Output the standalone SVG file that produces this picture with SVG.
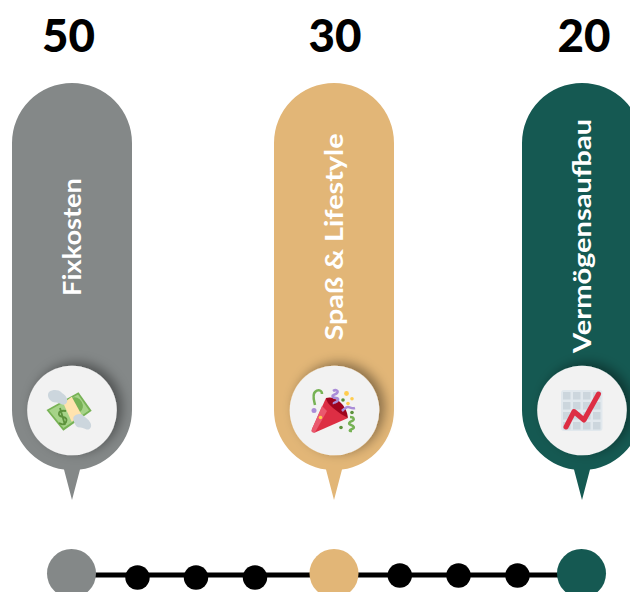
<svg xmlns="http://www.w3.org/2000/svg" width="630" height="592" viewBox="0 0 630 592">
<style>
text{font-family:"Lato","Liberation Sans",sans-serif;font-weight:700}
.num{font-size:46px;fill:#000;text-anchor:middle;font-weight:900}
.lbl{font-size:24px;fill:#fff;text-anchor:middle}
.disc{fill:#f2f2f2;filter:url(#sh)}
.cell{fill:#ccd6dd}
</style>
<defs>
<filter id="sh" x="-40%" y="-40%" width="180%" height="180%"><feDropShadow dx="5" dy="-3" stdDeviation="6" flood-color="#000" flood-opacity=".4"/></filter>
<path id="pin" d="M-60 -268V-1a60 60 0 0 0 52 59.500L0 89L8 58.500A60 60 0 0 0 60 -1V-268a60 60 0 0 0-120 0Z"/>
</defs>
<rect width="630" height="592" fill="#fff"/>
<g id="connectors">
<line x1="72" y1="575" x2="582" y2="575" stroke="#000" stroke-width="5"/>
</g>
<g id="timeline">
<circle cx="71.500" cy="573.500" r="24.500" fill="#848888"/>
<circle cx="334" cy="573.500" r="24.500" fill="#e2b677"/>
<circle cx="581.500" cy="573.500" r="24.500" fill="#155952"/>
<circle cx="137.500" cy="577.500" r="12.200"/><circle cx="196" cy="577.500" r="12.200"/><circle cx="255" cy="577.500" r="12.200"/>
<circle cx="399.800" cy="575.500" r="12.200"/><circle cx="458.500" cy="575.500" r="12.200"/><circle cx="517.500" cy="575.500" r="12.200"/>
</g>
<g id="node-fixkosten">
<text class="num" x="68.500" y="52" textLength="53" lengthAdjust="spacingAndGlyphs">50</text>
<use href="#pin" x="72" y="411" fill="#848888"/>
<text class="lbl" transform="translate(81 237) rotate(-90)" textLength="118" lengthAdjust="spacingAndGlyphs">Fixkosten</text>
<circle class="disc" cx="72" cy="410.500" r="44.800"/>
<g>
<path d="M46.500 410L78.500 392.300L91.700 410.700L63.300 430.700Z" fill="#77b255"/>
<path d="M49 410.500L78 394.500L89 410.500L63.500 428Z" fill="#a6d388"/>
<ellipse cx="76" cy="405" rx="6.500" ry="8" fill="#77b255" transform="rotate(-30 76 405)"/>
<path d="M63.300 403.300L71.700 396.700L81.700 415L71.700 421.700Z" fill="#ffe3ae"/>
<path d="M66 411q-6-1-7 2t4 4q5 1 3 5t-7 1M60 408l5 17" fill="none" stroke="#5c913b" stroke-width="1.800"/>
<path d="M49 392c4-3 10-2 12 0s5 3 6 7-2 7-6 5-5-1-8-2-7-6-4-10Z" fill="#ccd6dd"/>
<path d="M73.500 417c2-3 7-4 9-2s6 4 8 8-1 8-5 6-6-1-8-2-5-7-4-10Z" fill="#ccd6dd"/>
</g>
</g>
<g id="node-spass">
<text class="num" x="335" y="52" textLength="53" lengthAdjust="spacingAndGlyphs">30</text>
<use href="#pin" x="334" y="411" fill="#e2b677"/>
<text class="lbl" transform="translate(342.500 237) rotate(-90)" textLength="207" lengthAdjust="spacingAndGlyphs">Spaß &amp; Lifestyle</text>
<circle class="disc" cx="334.500" cy="410.500" r="44.800"/>
<g>
<path d="M312 429L326 398L348 418L315 432.500Q310.500 433 312 429Z" fill="#dd2e44"/>
<path d="M312 429L322 406L327 411L315 432.500Q310.500 433 312 429Z" fill="#ea596e"/>
<path d="M326 398Q333 396 340 402T348 418Q340 414 333 408T326 398Z" fill="#a0041e"/>
<path d="M320 408c-1-5-3-10 0-13s7-2 7 2" fill="none" stroke="#77b255" stroke-width="2.500" transform="translate(-5 -3)"/>
<circle cx="314" cy="410.500" r="2.500" fill="#aa8dd8"/>
<circle cx="320.500" cy="417.500" r="1.800" fill="#ffcc4d"/>
<path d="M333 391c3-2 6 0 4 2s-6 2-4 4 6 0 5 3-5 2-4 4" fill="none" stroke="#aa8dd8" stroke-width="2.500"/>
<path d="M342 411c2-2 4-4 6-4s4 2 7 1" fill="none" stroke="#aa8dd8" stroke-width="2.500"/>
<circle cx="346.500" cy="393.500" r="2.400" fill="#ffcc4d"/><circle cx="352" cy="398.800" r="1.800" fill="#ffcc4d"/><circle cx="348" cy="403.500" r="1.800" fill="#ffcc4d"/>
<circle cx="343" cy="400" r="1.800" fill="#5c913b"/><circle cx="352" cy="412.500" r="1.800" fill="#5c913b"/><circle cx="341" cy="427.500" r="1.800" fill="#5c913b"/>
<path d="M350 417c4 0 5 3 2 4s-4 3-1 4 4 3 1 4-3 2 0 2" fill="none" stroke="#77b255" stroke-width="2.500"/>
</g>
</g>
<g id="node-vermoegen">
<text class="num" x="584" y="52" textLength="53" lengthAdjust="spacingAndGlyphs">20</text>
<use href="#pin" x="582" y="411" fill="#155952"/>
<text class="lbl" transform="translate(591 236) rotate(-90)" textLength="234" lengthAdjust="spacingAndGlyphs">Vermögensaufbau</text>
<circle class="disc" cx="582" cy="410.500" r="44.800"/>
<g>
<rect x="561" y="390" width="41.500" height="41" rx="3" fill="#e1e8ed"/>
<g class="cell">
<rect x="563" y="392" width="7.500" height="7.500"/><rect x="573" y="392" width="7.500" height="7.500"/><rect x="583" y="392" width="7.500" height="7.500"/><rect x="593" y="392" width="7.500" height="7.500"/>
<rect x="563" y="402" width="7.500" height="7.500"/><rect x="573" y="402" width="7.500" height="7.500"/><rect x="583" y="402" width="7.500" height="7.500"/><rect x="593" y="402" width="7.500" height="7.500"/>
<rect x="563" y="412" width="7.500" height="7.500"/><rect x="573" y="412" width="7.500" height="7.500"/><rect x="583" y="412" width="7.500" height="7.500"/><rect x="593" y="412" width="7.500" height="7.500"/>
<rect x="563" y="422" width="7.500" height="7.500"/><rect x="573" y="422" width="7.500" height="7.500"/><rect x="583" y="422" width="7.500" height="7.500"/><rect x="593" y="422" width="7.500" height="7.500"/>
</g>
<path d="M566 427L574 411.500L584 420L598.500 394" fill="none" stroke="#dd2e44" stroke-width="5" stroke-linecap="round" stroke-linejoin="round"/>
</g>
</g>
</svg>
